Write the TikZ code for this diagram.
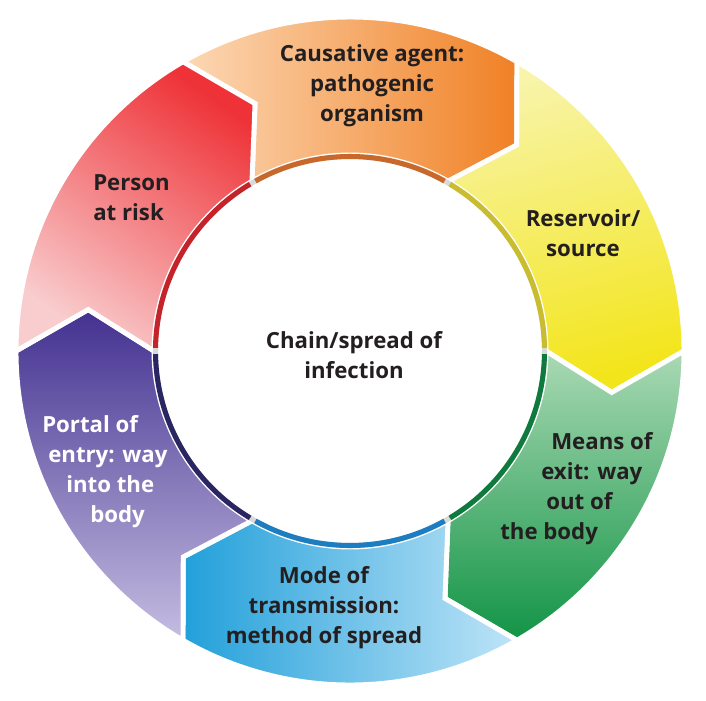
\documentclass[tikz,border=0pt]{standalone}
\usepackage{fontspec}
\newfontfamily\lblfont{Open Sans}
\usepackage{tikz}
\usetikzlibrary{positioning}

\definecolor{ink}{HTML}{231F20}
\definecolor{causalA}{HTML}{FCD8B5}
\definecolor{causalB}{HTML}{F08125}
\definecolor{reservoirA}{HTML}{F8F4AA}
\definecolor{reservoirB}{HTML}{F3E51B}
\definecolor{exitA}{HTML}{AAD9B4}
\definecolor{exitB}{HTML}{129446}
\definecolor{transA}{HTML}{22A0DA}
\definecolor{transB}{HTML}{BFE4F7}
\definecolor{entryA}{HTML}{433190}
\definecolor{entryB}{HTML}{C4BDE1}
\definecolor{personA}{HTML}{EE3237}
\definecolor{personB}{HTML}{F9CDCE}
\definecolor{gapgray}{HTML}{D9D9D9}
\definecolor{causalring}{HTML}{C8692B}
\definecolor{reservoirring}{HTML}{C9BC2E}
\definecolor{exitring}{HTML}{0F7A3D}
\definecolor{transring}{HTML}{1C7DC1}
\definecolor{entryring}{HTML}{2A2661}
\definecolor{personring}{HTML}{C4232A}

\begin{document}
\begin{tikzpicture}[
    x=0.025cm, y=0.025cm,
    seg/.style={draw=white, line width=3.5pt, line join=miter},
    segcausal/.style={left color=causalA, right color=causalB},
    segreservoir/.style={top color=reservoirA, bottom color=reservoirB, shading angle=15},
    segexit/.style={top color=exitA, bottom color=exitB},
    segtrans/.style={left color=transA, right color=transB},
    segentry/.style={top color=entryA, bottom color=entryB},
    segperson/.style={top color=personA, bottom color=personB, shading angle=-35},
    ring/.style={line width=3.6pt},
    lbl/.style={font=\lblfont\bfseries\fontsize{15.8}{21.3}\selectfont, text=ink, align=center, inner sep=0pt}
]
\useasboundingbox (-350,-349) rectangle (356,351);

% arrow segments, clockwise
\foreach \s/\sty in {120/segcausal, 60/segreservoir, 0/segexit, -60/segtrans, -120/segentry, 180/segperson}
    \draw[seg, \sty] (\s:334) arc[start angle=\s, end angle=\s-60, radius=334]
        -- ({\s-69}:265) -- ({\s-60}:196)
        arc[start angle=\s-60, end angle=\s, radius=196]
        -- ({\s-9}:265) -- cycle;

% inner ring
\draw[ring, gapgray] (0,0) circle[radius=194.5];
\foreach \s/\c in {120/causalring, 60/reservoirring, 0/exitring, -60/transring, -120/entryring, 180/personring}
    \draw[ring, draw=\c] ({\s-0.9}:194.5) arc[start angle=\s-0.9, end angle=\s-59.1, radius=194.5];

% labels
\node[lbl] (causal) at (22,265) {Causative agent:\\pathogenic\\organism};
\node[lbl] (reservoir) at (233,118) {Reservoir/\\source};
\node[lbl, align=left, anchor=west] (exit) at (150,-138)
    {\hspace*{1.275cm}Means of\\\hspace*{1.025cm}exit: way\\\hspace*{1.15cm}out of\\the body};
\node[lbl] (transmission) at (-26,-257) {Mode of\\transmission:\\method of spread};
\node[lbl, align=left, anchor=west, text=white] (entry) at (-308,-121)
    {Portal of\\\hspace*{0.15cm}entry: way\\\hspace*{0.6cm}into the\\\hspace*{1.2cm}body};
\node[lbl, align=left, anchor=west] (person) at (-257,153) {Person\\at risk};
\node[lbl] (chain) at (4,-4) {Chain/spread of\\infection};
\end{tikzpicture}
\end{document}
